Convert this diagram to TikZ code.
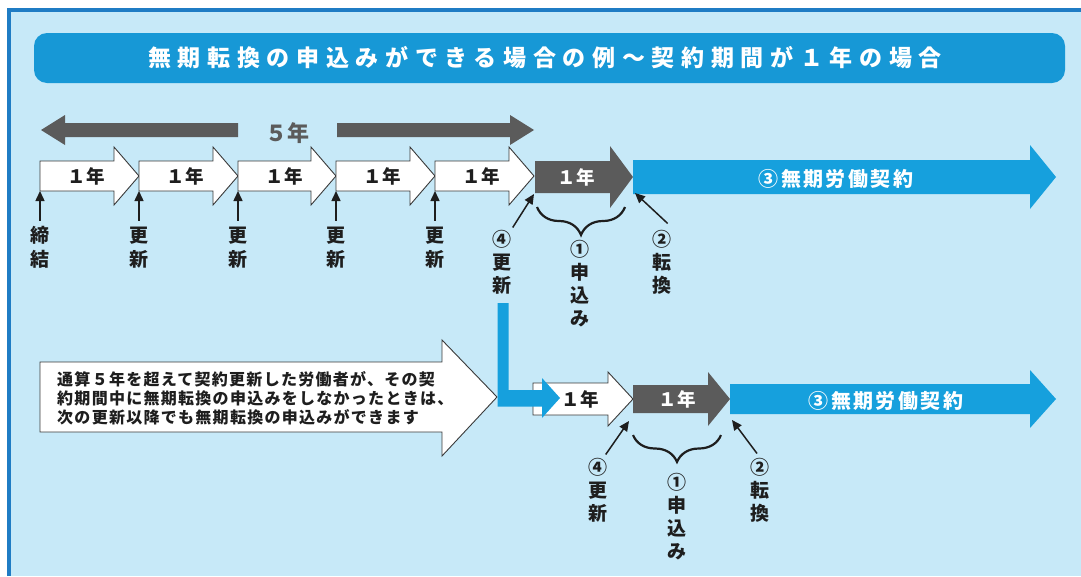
\documentclass[tikz,border=0pt]{standalone}
\usepackage{fontspec}
\setmainfont{Noto Sans CJK JP}
\newfontfamily\titlefont{Noto Sans CJK JP}[LetterSpace=29]
\newfontfamily\widefont{Noto Sans CJK JP}[LetterSpace=12]
\newfontfamily\boxfont{Noto Sans CJK JP}[LetterSpace=8]
\usetikzlibrary{arrows.meta,decorations.pathreplacing}
\definecolor{bgblue}{HTML}{C7E9F8}
\definecolor{borderblue}{HTML}{1F7CC4}
\definecolor{titleblue}{HTML}{1798D6}
\definecolor{arrowblue}{HTML}{16A0DD}
\definecolor{darkgray}{HTML}{5B5B5B}
\definecolor{outlinegray}{HTML}{3A3A3A}
\definecolor{inkblack}{HTML}{1E1E1E}
% x0, xbase, xtip, ycenter, bar half height, head half height, style
\newcommand\myarrow[7]{\path[#7] (#1,#4-#5) -- (#2,#4-#5) -- (#2,#4-#6) -- (#3,#4) -- (#2,#4+#6) -- (#2,#4+#5) -- (#1,#4+#5) -- cycle;}
\tikzset{
  whitearr/.style={fill=white,draw=outlinegray,line width=0.9pt,line join=miter},
  darkarr/.style={fill=darkgray},
  bluearr/.style={fill=arrowblue},
  yeartxt/.style={font=\bfseries\fontsize{18.5}{20}\selectfont,text=inkblack,inner sep=0},
  yearwhite/.style={font=\bfseries\fontsize{18.5}{20}\selectfont,text=white,inner sep=0},
  vlab/.style={font=\bfseries\fontsize{19}{23}\selectfont,align=center,inner sep=0,anchor=north,text=inkblack},
  vlabwide/.style={vlab,font=\bfseries\fontsize{19}{24}\selectfont},
  ptr/.style={draw=inkblack,line width=1.5pt,-{Triangle[length=10pt,width=9pt]}},
  bracestyle/.style={draw=inkblack,line width=2.2pt,decorate,decoration={brace,amplitude=#1}},
}
\begin{document}
\begin{tikzpicture}[x=1pt,y=-1pt]
\useasboundingbox (0,0) rectangle (1081,576);
\fill[white] (0,0) rectangle (1081,576);
\fill[bgblue] (9,10) rectangle (1081,576);
\draw[borderblue,line width=3.5pt] (9,576) -- (9,10) -- (1081,10);
% title
\fill[titleblue,rounded corners=13pt] (34,33) rectangle (1065,83);
\node[font=\titlefont\bfseries\fontsize{23}{26}\selectfont,text=white,inner sep=0] (title) at (545,58) {無期転換の申込みができる場合の例～契約期間が１年の場合};
% five-year double arrow
\fill[darkgray] (41,130) -- (65,115) -- (65,123) -- (238,123) -- (238,137) -- (65,137) -- (65,145) -- cycle;
\fill[darkgray] (337,123) -- (510,123) -- (510,115) -- (534,130) -- (510,145) -- (510,137) -- (337,137) -- cycle;
\node[font=\bfseries\fontsize{22}{24}\selectfont,text=darkgray,inner sep=0] (five) at (287,133) {５年};
% row 1 arrows
\myarrow{40}{114}{139}{176}{15}{29}{whitearr}
\myarrow{139}{213}{238}{176}{15}{29}{whitearr}
\myarrow{238}{311}{336}{176}{15}{29}{whitearr}
\myarrow{336}{410}{435}{176}{15}{29}{whitearr}
\myarrow{435}{509}{534}{176}{15}{29}{whitearr}
\myarrow{535}{610}{633}{177}{16}{31}{darkarr}
\myarrow{633}{1030}{1056}{177}{17}{32}{bluearr}
\node[yeartxt] (y1) at (86,176) {１年};
\node[yeartxt] (y2) at (185,176) {１年};
\node[yeartxt] (y3) at (284,176) {１年};
\node[yeartxt] (y4) at (382,176) {１年};
\node[yeartxt] (y5) at (481,176) {１年};
\node[yearwhite] (y6) at (576,177) {１年};
\node[font=\widefont\bfseries\fontsize{20}{22}\selectfont,text=white,inner sep=0] (mk1) at (836,179) {③無期労働契約};
% row 1 markers
\node[vlabwide] (m1) at (40,226.5) {締\\結};
\node[vlabwide] (m2) at (139,226.5) {更\\新};
\node[vlabwide] (m3) at (238,226.5) {更\\新};
\node[vlabwide] (m4) at (336,226.5) {更\\新};
\node[vlabwide] (m5) at (435,226.5) {更\\新};
\coordinate (t1) at (40,191);
\coordinate (t2) at (139,191);
\coordinate (t3) at (238,191);
\coordinate (t4) at (336,191);
\coordinate (t5) at (435,191);
\foreach \i in {1,...,5} \draw[ptr] ([yshift=6pt]m\i.north) -- (t\i);
% row 1 renewal / application / conversion
\node[vlab] (r4a) at (502,230.5) {④\\更\\新};
\coordinate (r4tip) at (534,194);
\draw[ptr] ([xshift=1pt,yshift=3pt]r4a.north east) -- (r4tip);
\draw[bracestyle=28] (625,207) -- (537,207);
\node[vlab] (r1a) at (580,240.5) {①\\申\\込\\み};
\node[vlab] (r2a) at (662,230.5) {②\\転\\換};
\coordinate (r2tip) at (635,193);
\draw[ptr] ([xshift=-4pt,yshift=7pt]r2a.north east) -- (r2tip);
% explanatory arrow
\path[whitearr] (40,362) -- (442,362) -- (442,340) -- (497,397) -- (442,456) -- (442,432) -- (40,432) -- cycle;
\node[font=\boxfont\bfseries\fontsize{16}{19}\selectfont,text=inkblack,align=left,anchor=north west,inner sep=0] (note) at (57,371) {通算５年を超えて契約更新した労働者が、その契\\約期間中に無期転換の申込みをしなかったときは、\\次の更新以降でも無期転換の申込みができます};
% row 2 arrows
\myarrow{533}{608}{633}{399}{16}{27}{whitearr}
\myarrow{633}{708}{730}{399}{14}{27}{darkarr}
\myarrow{730}{1030}{1056}{399}{15}{29}{bluearr}
\node[yeartxt] (z1) at (580,399) {１年};
\node[yearwhite] (z2) at (677,399) {１年};
\node[font=\widefont\bfseries\fontsize{20}{22}\selectfont,text=white,inner sep=0] (mk2) at (886,401) {③無期労働契約};
% blue L connector
\fill[arrowblue] (497.5,303) -- (508.5,303) -- (508.5,390) -- (542,390) -- (542,378) -- (560,398) -- (542,418) -- (542,406.5) -- (497.5,406.5) -- cycle;
% row 2 labels
\node[vlab] (s4a) at (598,458.5) {④\\更\\新};
\coordinate (s4tip) at (629,421);
\draw[ptr] ([xshift=-2pt,yshift=4pt]s4a.north east) -- (s4tip);
\draw[bracestyle=27] (721,435) -- (633,435);
\node[vlab] (s1a) at (677,473.5) {①\\申\\込\\み};
\node[vlab] (s2a) at (760,458.5) {②\\転\\換};
\coordinate (s2tip) at (732,420);
\draw[ptr] ([xshift=-3pt,yshift=5pt]s2a.north) -- (s2tip);
\end{tikzpicture}
\end{document}
